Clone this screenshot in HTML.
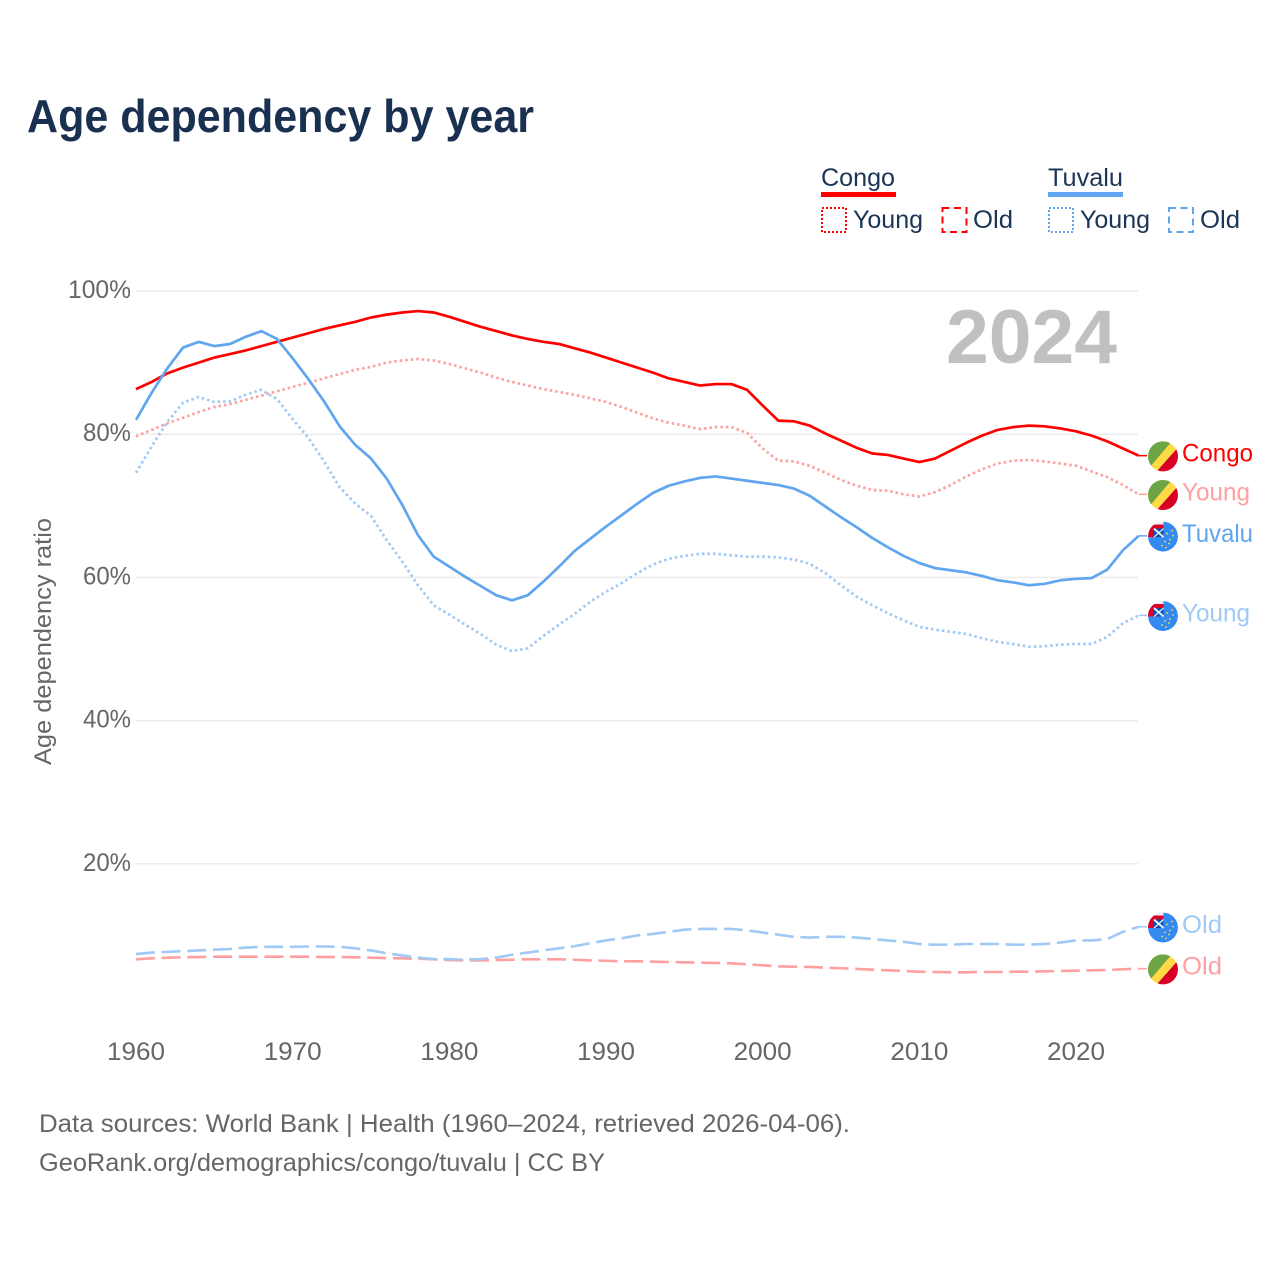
<!DOCTYPE html>
<html lang="en">
<head>
<meta charset="utf-8">
<title>Age dependency by year</title>
<style>
html,body{margin:0;padding:0;background:#fff;width:1280px;height:1280px;overflow:hidden}
svg{display:block}
text{font-family:"Liberation Sans",sans-serif}
</style>
</head>
<body>
<svg id="chart" xmlns="http://www.w3.org/2000/svg" width="1280" height="1280" viewBox="0 0 1280 1280">
  <defs>
    <clipPath id="flag-clip"><circle cx="0" cy="0" r="15"/></clipPath>
    <g id="flag-congo" clip-path="url(#flag-clip)">
      <circle r="15" fill="#ffda44"/>
      <polygon points="-20,-20 13,-20 -20,18.700" fill="#6da544"/>
      <polygon points="24.800,-20 24.800,20 -10.700,20" fill="#d80027"/>
    </g>
    <g id="flag-tuvalu" clip-path="url(#flag-clip)">
      <circle r="15" fill="#338af3"/>
      <rect x="-15" y="-15" width="15.500" height="15.500" fill="#f0f0f0"/>
      <rect x="-15" y="-12" width="15.500" height="12.500" fill="#d80027"/>
      <rect x="-9" y="-8" width="9.500" height="8.500" fill="#0052b4"/>
      <line x1="-9" y1="-8" x2="0.500" y2="0.500" stroke="#f0f0f0" stroke-width="2"/>
      <line x1="-9" y1="0.500" x2="0.500" y2="-8" stroke="#f0f0f0" stroke-width="1.200"/>
      <g fill="#ffda44">
        <circle cx="9" cy="-6" r="0.900"/><circle cx="4" cy="-3" r="0.900"/><circle cx="10" cy="-1" r="0.900"/>
        <circle cx="7" cy="3" r="0.900"/><circle cx="2" cy="5" r="0.900"/><circle cx="6" cy="7" r="0.900"/>
        <circle cx="-1" cy="9" r="0.900"/><circle cx="3" cy="11" r="0.900"/>
      </g>
    </g>
  </defs>

  <text x="27" y="132" font-size="46" font-weight="700" fill="#1a3050" textLength="507" lengthAdjust="spacingAndGlyphs">Age dependency by year</text>

  <g font-size="25" fill="#1a3557">
    <text x="821" y="186" textLength="74" lengthAdjust="spacingAndGlyphs">Congo</text>
    <rect x="821" y="192" width="75" height="5" fill="#ff0000"/>
    <rect x="822" y="208" width="24" height="24" fill="none" stroke="#ff0000" stroke-width="2" stroke-dasharray="2 2"/>
    <text x="853" y="228" textLength="70" lengthAdjust="spacingAndGlyphs">Young</text>
    <rect x="942.500" y="208" width="24" height="24" fill="none" stroke="#ff0000" stroke-width="2" stroke-dasharray="7 4.500"/>
    <text x="973" y="228" textLength="40" lengthAdjust="spacingAndGlyphs">Old</text>
    <text x="1048" y="186" textLength="75" lengthAdjust="spacingAndGlyphs">Tuvalu</text>
    <rect x="1048" y="192" width="75" height="5" fill="#60a5ef"/>
    <rect x="1049" y="208" width="24" height="24" fill="none" stroke="#60a5ef" stroke-width="2" stroke-dasharray="2 2"/>
    <text x="1080" y="228" textLength="70" lengthAdjust="spacingAndGlyphs">Young</text>
    <rect x="1169" y="208" width="24" height="24" fill="none" stroke="#60a5ef" stroke-width="2" stroke-dasharray="7 4.500"/>
    <text x="1200" y="228" textLength="40" lengthAdjust="spacingAndGlyphs">Old</text>
  </g>

  <g id="grid"></g>
  <text x="946" y="363" font-size="76" font-weight="700" fill="#c0c0c0" textLength="171" lengthAdjust="spacingAndGlyphs">2024</text>
  <g id="ticks" font-size="25" fill="#666666"></g>
  <text transform="translate(51 765) rotate(-90)" font-size="24" fill="#666666" textLength="247" lengthAdjust="spacingAndGlyphs">Age dependency ratio</text>
  <g id="series"></g>

  <text x="39" y="1132" font-size="25" fill="#666666" textLength="811" lengthAdjust="spacingAndGlyphs">Data sources: World Bank | Health (1960–2024, retrieved 2026-04-06).</text>
  <text x="39" y="1171" font-size="25" fill="#666666" textLength="566" lengthAdjust="spacingAndGlyphs">GeoRank.org/demographics/congo/tuvalu | CC BY</text>
</svg>
<script>
const firstYear = 1960;
const xTickYears = [1960, 1970, 1980, 1990, 2000, 2010, 2020];
const yTickValues = [20, 40, 60, 80, 100];
const congoTotal = [
  86.3,87.3,88.5,89.3,90.0,90.7,91.2,91.7,92.3,92.9,
  93.5,94.1,94.7,95.2,95.7,96.3,96.7,97.0,97.2,97.0,
  96.4,95.7,95.0,94.4,93.8,93.3,92.9,92.6,92.0,91.4,
  90.7,90.0,89.3,88.6,87.8,87.3,86.8,87.0,87.0,86.2,
  84.0,81.9,81.8,81.2,80.1,79.1,78.1,77.3,77.1,76.6,
  76.1,76.6,77.7,78.8,79.8,80.6,81.0,81.2,81.1,80.8,
  80.4,79.8,79.0,78.0,77.0];
const congoYoung = [
  79.7,80.6,81.5,82.3,83.1,83.8,84.2,84.8,85.4,86.0,
  86.6,87.2,87.8,88.4,89.0,89.4,90.0,90.3,90.5,90.3,
  89.8,89.2,88.6,87.9,87.3,86.8,86.3,85.9,85.5,85.0,
  84.5,83.8,83.0,82.2,81.6,81.2,80.7,81.0,81.0,80.2,
  78.0,76.3,76.2,75.6,74.6,73.6,72.8,72.2,72.1,71.6,
  71.3,71.9,72.9,74.1,75.1,75.9,76.3,76.4,76.2,75.9,
  75.6,74.8,74.0,72.9,71.6];
const congoOld = [
  6.66,6.8,6.89,6.94,6.98,7.03,7.03,7.03,7.03,7.03,
  7.03,7.03,6.98,6.98,6.94,6.89,6.84,6.8,6.75,6.66,
  6.56,6.5,6.5,6.56,6.6,6.66,6.66,6.66,6.6,6.5,
  6.46,6.38,6.38,6.33,6.28,6.24,6.19,6.15,6.1,5.96,
  5.82,5.68,5.63,5.59,5.49,5.41,5.31,5.21,5.13,5.03,
  4.93,4.89,4.85,4.85,4.89,4.89,4.93,4.93,4.98,5.03,
  5.07,5.13,5.17,5.27,5.35];
const tuvaluTotal = [
  82.0,85.8,89.2,92.1,92.9,92.3,92.6,93.6,94.4,93.3,
  90.6,87.7,84.6,81.1,78.5,76.6,73.8,70.1,65.9,62.9,
  61.5,60.1,58.8,57.5,56.8,57.5,59.4,61.5,63.7,65.4,
  67.1,68.7,70.3,71.8,72.8,73.4,73.9,74.1,73.8,73.5,
  73.2,72.9,72.4,71.4,69.9,68.4,67.0,65.5,64.2,63.0,
  62.0,61.3,61.0,60.7,60.2,59.6,59.3,58.9,59.1,59.6,
  59.8,59.9,61.1,63.8,65.8];
const tuvaluYoung = [
  74.6,78.3,81.7,84.4,85.2,84.5,84.6,85.5,86.2,84.9,
  82.1,79.5,76.2,72.6,70.3,68.6,65.2,62.2,58.9,56.1,
  54.8,53.4,52.1,50.6,49.7,50.1,51.8,53.4,54.9,56.6,
  58.0,59.2,60.6,61.8,62.6,63.0,63.3,63.3,63.1,62.9,
  62.9,62.8,62.5,61.9,60.6,58.9,57.3,56.1,55.0,54.0,
  53.1,52.7,52.4,52.1,51.5,51.0,50.7,50.3,50.4,50.6,
  50.7,50.7,51.7,53.6,54.7];
const tuvaluOld = [
  7.4,7.6,7.7,7.8,7.9,8.0,8.1,8.3,8.4,8.4,
  8.4,8.45,8.45,8.4,8.2,7.9,7.5,7.2,6.9,6.7,
  6.7,6.6,6.7,6.9,7.3,7.6,7.9,8.2,8.5,8.9,
  9.3,9.6,10.0,10.2,10.5,10.8,10.9,10.9,10.9,10.7,
  10.4,10.1,9.8,9.7,9.8,9.8,9.7,9.5,9.3,9.1,
  8.8,8.7,8.7,8.8,8.8,8.8,8.7,8.7,8.8,9.0,
  9.3,9.3,9.5,10.5,11.2];

const NS = 'http://www.w3.org/2000/svg';
function xScale(year) { return 136 + (year - 1960) * 15.6667; }
function yScale(v) { return 1007 - v * 7.16; }
function make(tag, attrs, parent) {
  const el = document.createElementNS(NS, tag);
  for (const k in attrs) el.setAttribute(k, attrs[k]);
  parent.appendChild(el);
  return el;
}

const gridG = document.getElementById('grid');
const ticksG = document.getElementById('ticks');

yTickValues.forEach(function (v) {
  const line = make('line', {x1: 136, x2: 1138, y1: yScale(v), y2: yScale(v), stroke: '#ececec', 'stroke-width': 1.5}, gridG);
  
  
  const label = v + '%';
  const t = make('text', {x: 131, y: yScale(v) + 7, 'text-anchor': 'end', textLength: label.length === 4 ? 63 : 48, lengthAdjust: 'spacingAndGlyphs'}, ticksG);
  t.textContent = label;
  
  
});

xTickYears.forEach(function (yr) {
  const t = make('text', {x: xScale(yr), y: 1060, 'text-anchor': 'middle', textLength: 58, lengthAdjust: 'spacingAndGlyphs'}, ticksG);
  t.textContent = String(yr);
  
  
});

function drawSeries(key, values, color, dash, width, flag, labelText, labelWidth) {
  const g = make('g', {}, document.getElementById('series'));
  
  
  const pts = values.map(function (v, i) {
    return xScale(firstYear + i).toFixed(2) + ',' + yScale(v).toFixed(2);
  }).join(' ');
  const attrs = {points: pts, fill: 'none', stroke: color, 'stroke-width': width, 'stroke-linejoin': 'round'};
  if (dash) attrs['stroke-dasharray'] = dash;
  const line = make('polyline', attrs, g);
  
  
  const lastX = xScale(firstYear + values.length - 1);
  const lastY = yScale(values[values.length - 1]);
  const stub = make('line', {x1: lastX, x2: 1147, y1: lastY, y2: lastY, stroke: color, 'stroke-width': 1.5}, g);
  
  
  const icon = make('use', {href: '#flag-' + flag, transform: 'translate(1163 ' + (lastY + 0.7) + ')'}, g);
  
  
  const t = make('text', {x: 1182, y: lastY + 6, 'font-size': 25, fill: color, textLength: labelWidth, lengthAdjust: 'spacingAndGlyphs'}, g);
  t.textContent = labelText;
  
  
}

drawSeries('congo-old', congoOld, '#ffa0a0', '19 6.700', 2.6, 'congo', 'Old', 40);
drawSeries('tuvalu-old', tuvaluOld, '#a0c9f5', '19 6.700', 2.6, 'tuvalu', 'Old', 40);
drawSeries('congo-young', congoYoung, '#ffa0a0', '2.500 3', 2.7, 'congo', 'Young', 68);
drawSeries('tuvalu-young', tuvaluYoung, '#a0c9f5', '2.500 3', 2.7, 'tuvalu', 'Young', 68);
drawSeries('congo-total', congoTotal, '#ff0000', '', 2.7, 'congo', 'Congo', 71);
drawSeries('tuvalu-total', tuvaluTotal, '#60a5ef', '', 2.7, 'tuvalu', 'Tuvalu', 71);
</script>
</body>
</html>
